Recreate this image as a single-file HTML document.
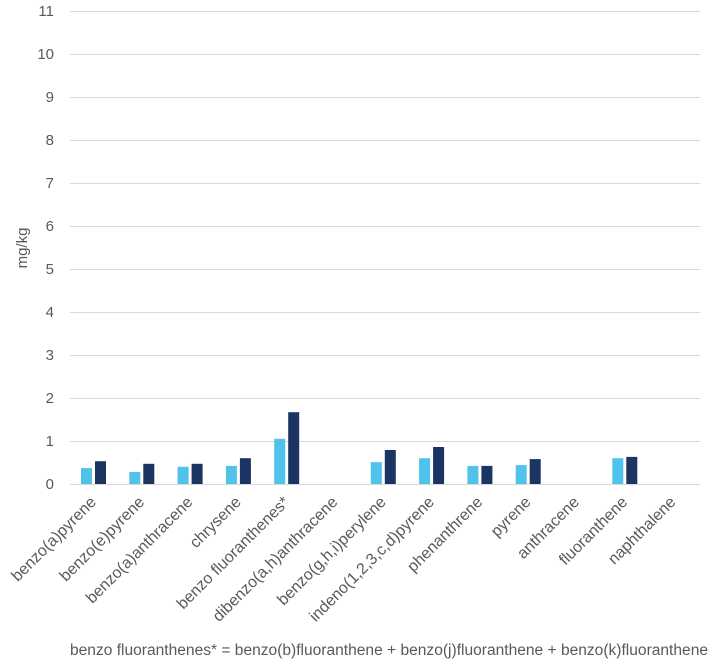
<!DOCTYPE html>
<html><head><meta charset="utf-8"><style>
body{margin:0;background:#fff;}
svg text{font-family:"Liberation Sans",sans-serif;fill:#595959;}
</style></head><body>
<svg width="720" height="662" viewBox="0 0 720 662" xmlns="http://www.w3.org/2000/svg">
<g stroke="#d9d9d9" stroke-width="1">
<line x1="70" x2="700" y1="484.5" y2="484.5"/>
<line x1="70" x2="700" y1="441.5" y2="441.5"/>
<line x1="70" x2="700" y1="398.5" y2="398.5"/>
<line x1="70" x2="700" y1="355.5" y2="355.5"/>
<line x1="70" x2="700" y1="312.5" y2="312.5"/>
<line x1="70" x2="700" y1="269.5" y2="269.5"/>
<line x1="70" x2="700" y1="226.5" y2="226.5"/>
<line x1="70" x2="700" y1="183.5" y2="183.5"/>
<line x1="70" x2="700" y1="140.5" y2="140.5"/>
<line x1="70" x2="700" y1="97.5" y2="97.5"/>
<line x1="70" x2="700" y1="54.5" y2="54.5"/>
<line x1="70" x2="700" y1="11.5" y2="11.5"/>
</g>
<g font-size="15" text-anchor="end">
<text x="54" y="489">0</text><text x="54" y="446">1</text><text x="54" y="403">2</text>
<text x="54" y="360">3</text><text x="54" y="317">4</text><text x="54" y="274">5</text>
<text x="54" y="231">6</text><text x="54" y="188">7</text><text x="54" y="145">8</text>
<text x="54" y="102">9</text><text x="54" y="59">10</text><text x="54" y="16">11</text>
</g>
<text font-size="15" transform="translate(27,248) rotate(-90)" text-anchor="middle">mg/kg</text>
<g fill="#4fc3ea">
<rect x="81" y="468.1" width="11" height="15.9"/>
<rect x="129.3" y="472" width="11" height="12"/>
<rect x="177.6" y="466.8" width="11" height="17.2"/>
<rect x="225.9" y="465.9" width="11" height="18.1"/>
<rect x="274.2" y="438.8" width="11" height="45.2"/>
<rect x="370.8" y="462.1" width="11" height="21.9"/>
<rect x="419.1" y="458.2" width="11" height="25.8"/>
<rect x="467.4" y="465.9" width="11" height="18.1"/>
<rect x="515.7" y="465.1" width="11" height="18.9"/>
<rect x="612.3" y="458.2" width="11" height="25.8"/>
</g>
<g fill="#1b3461">
<rect x="95" y="461.2" width="11" height="22.8"/>
<rect x="143.3" y="463.8" width="11" height="20.2"/>
<rect x="191.6" y="463.8" width="11" height="20.2"/>
<rect x="239.9" y="458.2" width="11" height="25.8"/>
<rect x="288.2" y="412.2" width="11" height="71.8"/>
<rect x="384.8" y="450" width="11" height="34"/>
<rect x="433.1" y="447" width="11" height="37"/>
<rect x="481.4" y="465.9" width="11" height="18.1"/>
<rect x="529.7" y="459.1" width="11" height="24.9"/>
<rect x="626.3" y="456.9" width="11" height="27.1"/>
</g>
<g font-size="16" text-anchor="end">
<text transform="translate(97,503) rotate(-45)">benzo(a)pyrene</text>
<text transform="translate(145.3,503) rotate(-45)">benzo(e)pyrene</text>
<text transform="translate(193.6,503) rotate(-45)">benzo(a)anthracene</text>
<text transform="translate(241.9,503) rotate(-45)">chrysene</text>
<text transform="translate(290.2,503) rotate(-45)">benzo fluoranthenes*</text>
<text transform="translate(338.5,503) rotate(-45)">dibenzo(a,h)anthracene</text>
<text transform="translate(386.8,503) rotate(-45)">benzo(g,h,i)perylene</text>
<text transform="translate(435.1,503) rotate(-45)">indeno(1,2,3,c,d)pyrene</text>
<text transform="translate(483.4,503) rotate(-45)">phenanthrene</text>
<text transform="translate(531.7,503) rotate(-45)">pyrene</text>
<text transform="translate(580,503) rotate(-45)">anthracene</text>
<text transform="translate(628.3,503) rotate(-45)">fluoranthene</text>
<text transform="translate(676.6,503) rotate(-45)">naphthalene</text>
</g>
<text x="70" y="655" font-size="15.5" textLength="638" lengthAdjust="spacingAndGlyphs">benzo fluoranthenes* = benzo(b)fluoranthene + benzo(j)fluoranthene + benzo(k)fluoranthene</text>
</svg>
</body></html>
